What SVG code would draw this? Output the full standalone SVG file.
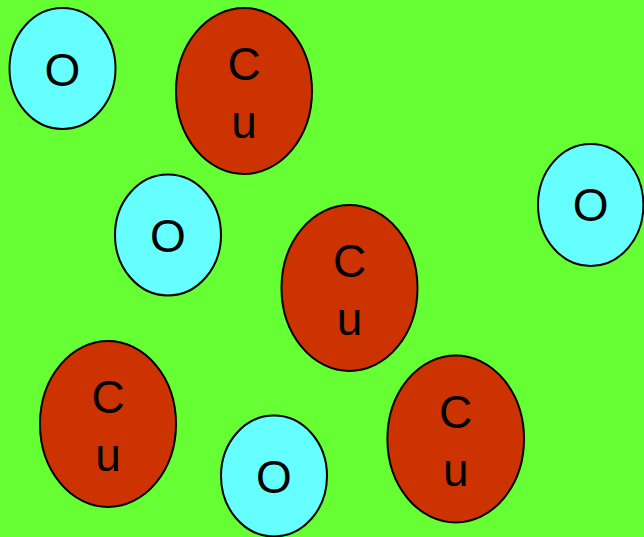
<svg xmlns="http://www.w3.org/2000/svg" width="644" height="537" viewBox="0 0 644 537">
<style>
.o{fill:#66FFFF;stroke:#000;stroke-width:2}
.cu{fill:#CC3300;stroke:#000;stroke-width:2}
text{font-family:"Liberation Sans",Arial,sans-serif;font-size:46px;fill:#000;text-anchor:middle}
</style>
<rect width="644" height="537" fill="#66FF33"/>
<g id="o1"><ellipse class="o" cx="62.5" cy="68.5" rx="53" ry="60.5"/><text x="62.5" y="86">O</text></g>
<g id="cu1"><ellipse class="cu" cx="244" cy="91" rx="68" ry="83"/><text x="244" y="80">C</text><text x="244" y="138">u</text></g>
<g id="o2"><ellipse class="o" cx="168" cy="235" rx="53" ry="60.5"/><text x="168" y="252">O</text></g>
<g id="cu2"><ellipse class="cu" cx="349.5" cy="288" rx="68" ry="83"/><text x="349.5" y="277">C</text><text x="349.5" y="335">u</text></g>
<g id="o3"><ellipse class="o" cx="590.7" cy="205" rx="52.7" ry="61"/><text x="590.7" y="221">O</text></g>
<g id="cu3"><ellipse class="cu" cx="108" cy="424" rx="68" ry="83"/><text x="108" y="413">C</text><text x="108" y="471">u</text></g>
<g id="o4"><ellipse class="o" cx="274" cy="476" rx="53" ry="60.5"/><text x="274" y="493">O</text></g>
<g id="cu4"><ellipse class="cu" cx="455.7" cy="439" rx="68.3" ry="83.5"/><text x="455.7" y="428">C</text><text x="455.7" y="486">u</text></g>
<g id="connectors"/>
</svg>
